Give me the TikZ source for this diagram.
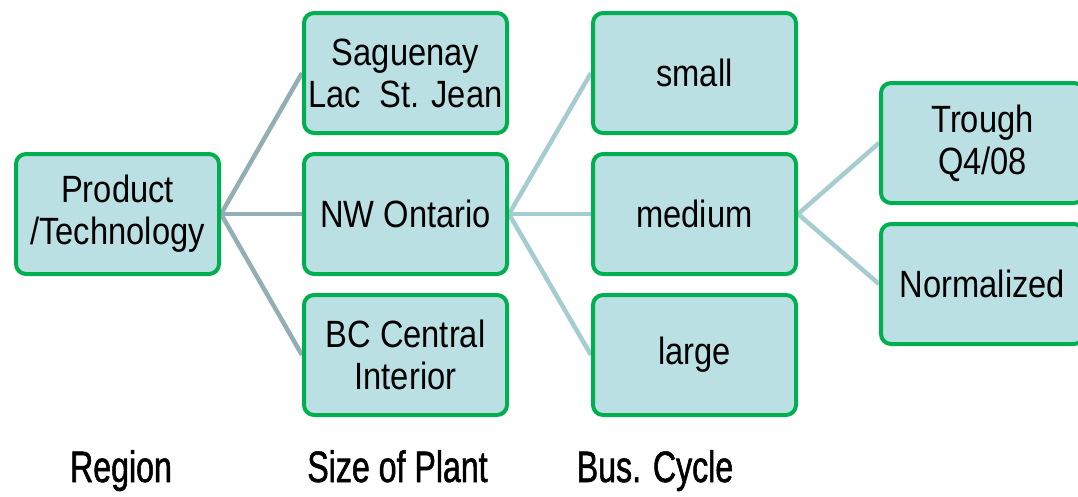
\documentclass[tikz,border=0pt]{standalone}
\usepackage{fontspec}
\setmainfont{Liberation Sans}
\newfontfamily\boxfont[FakeStretch=0.86]{Liberation Sans}
\newfontfamily\labfont[FakeStretch=0.73,FakeBold=1.2]{Liberation Sans}
\usetikzlibrary{backgrounds}
\definecolor{boxfill}{HTML}{BBE0E3}
\definecolor{boxline}{HTML}{00B050}
\definecolor{linkdark}{HTML}{93AFB5}
\definecolor{linklight}{HTML}{A5CDD1}
\tikzset{
  item/.style={draw=boxline, fill=boxfill, line width=4pt, rounded corners=10pt,
    minimum width=203pt, minimum height=120pt, inner sep=0pt, align=center,
    font=\boxfont\fontsize{38pt}{42pt}\selectfont},
  caption/.style={anchor=base, inner sep=0pt, font=\labfont\fontsize{44pt}{48pt}\selectfont},
  linkA/.style={draw=linkdark, line width=4.5pt},
  linkB/.style={draw=linklight, line width=4.5pt}
}
\begin{document}
\begin{tikzpicture}[x=1pt, y=1pt]
\path[use as bounding box, clip] (0,0) rectangle (1078,-496);

% tree nodes
\node[item] (root) at (117.5,-214) {Product\\/Technology};

\node[item] (sag) at (405.5,-73)  {Saguenay\\Lac~~St. Jean};
\node[item] (nwo) at (405.5,-214) {NW Ontario};
\node[item] (bcc) at (405.5,-355) {BC Central\\Interior};

\node[item] (sml) at (694.5,-73)  {small};
\node[item] (med) at (694.5,-214) {medium};
\node[item] (lrg) at (694.5,-355) {large};

\node[item] (trg) at (982.5,-143) {Trough\\Q4/08};
\node[item] (nrm) at (982.5,-284) {Normalized};

% connectors, kept behind the boxes
\begin{scope}[on background layer]
  \draw[linkA] (root.east) -- (sag.west);
  \draw[linkA] (root.east) -- (nwo.west);
  \draw[linkA] (root.east) -- (bcc.west);
  \draw[linkB] (nwo.east) -- (sml.west);
  \draw[linkB] (nwo.east) -- (med.west);
  \draw[linkB] (nwo.east) -- (lrg.west);
  \draw[linkB] (med.east) -- (trg.west);
  \draw[linkB] (med.east) -- (nrm.west);
\end{scope}

% level captions
\node[caption] (capA) at (121,-482) {Region};
\node[caption] (capB) at (397.5,-482) {Size of Plant};
\node[caption] (capC) at (655,-482) {Bus. Cycle};
\end{tikzpicture}
\end{document}
